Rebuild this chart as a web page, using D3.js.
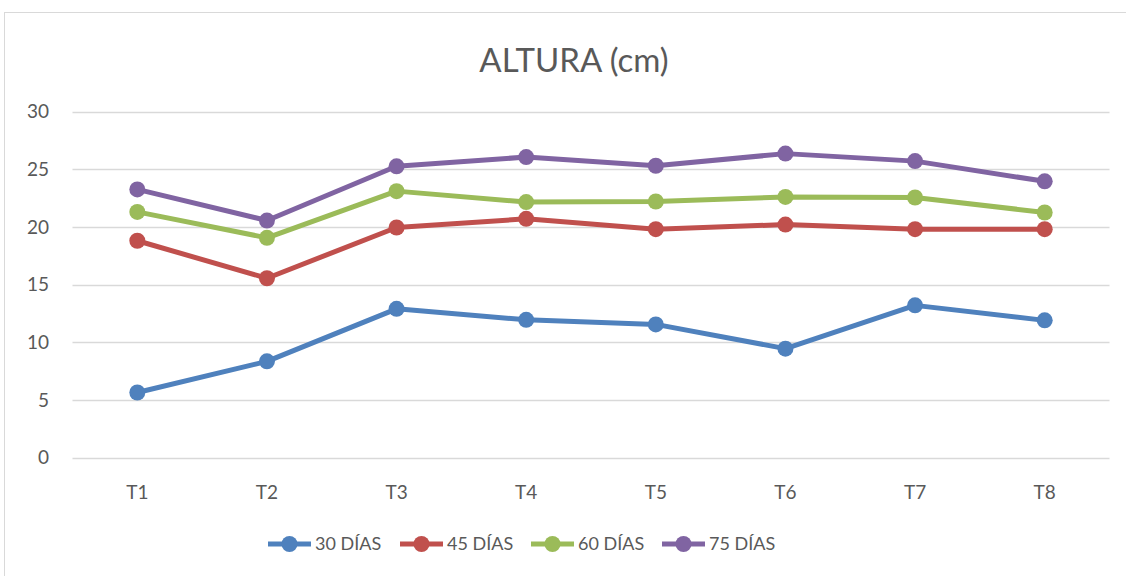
<!DOCTYPE html>
<html>
<head>
<meta charset="utf-8">
<script src="https://cdn.jsdelivr.net/npm/d3@7"></script>
<style>
  body { margin: 0; background: #fff; }
  text { font-family: Lato, "Open Sans", sans-serif; fill: #595959; }
</style>
</head>
<body>
<script>
const categories = ["T1", "T2", "T3", "T4", "T5", "T6", "T7", "T8"];
const seriesNames = ["30 DÍAS", "45 DÍAS", "60 DÍAS", "75 DÍAS"];
const dias30 = [5.65, 8.35, 12.9, 11.95, 11.55, 9.45, 13.2, 11.9];
const dias45 = [18.8, 15.55, 19.95, 20.7, 19.8, 20.2, 19.8, 19.8];
const dias60 = [21.3, 19.05, 23.1, 22.15, 22.2, 22.6, 22.55, 21.25];
const dias75 = [23.25, 20.55, 25.25, 26.05, 25.3, 26.35, 25.7, 23.95];
const yTicks = [0, 5, 10, 15, 20, 25, 30];
const colors = ["#4F81BD", "#C0504D", "#9BBB59", "#8064A2"];

function main(){
    const W = 1126, H = 576;
    const svg = d3.select("body").append("svg")
        .attr("width", W)
        .attr("height", H);

    // chart border (runs off the right and bottom)
    svg.append("rect")
        .attr("x", 4.5).attr("y", 12.5)
        .attr("width", W + 20).attr("height", H + 20)
        .attr("fill", "none")
        .attr("stroke", "#d9d9d9");

    svg.append("text")
        .attr("x", 574).attr("y", 72)
        .attr("text-anchor", "middle")
        .attr("font-size", "33px")
        .text("ALTURA (cm)");

    const left = 72.5, right = 1109.5, top = 111.5, bottom = 457.7;

    const x = d3.scaleBand().domain(categories).range([left, right]);
    const y = d3.scaleLinear().domain([0, 30]).range([bottom, top]);

    const g = svg.append("g");

    g.selectAll("line.grid")
        .data(yTicks)
        .enter().append("line")
        .attr("class", "grid")
        .attr("x1", left).attr("x2", right)
        .attr("y1", d => Math.round(y(d)) + 0.5)
        .attr("y2", d => Math.round(y(d)) + 0.5)
        .attr("stroke", "#d9d9d9")
        .attr("stroke-width", 1.5);

    g.selectAll("text.ytick")
        .data(yTicks)
        .enter().append("text")
        .attr("class", "ytick")
        .attr("x", 49)
        .attr("y", d => y(d))
        .attr("dy", "0.35em")
        .attr("text-anchor", "end")
        .attr("font-size", "19px")
        .text(d => d);

    g.selectAll("text.xtick")
        .data(categories)
        .enter().append("text")
        .attr("class", "xtick")
        .attr("x", d => x(d) + x.bandwidth() / 2)
        .attr("y", 499)
        .attr("text-anchor", "middle")
        .attr("font-size", "19px")
        .text(d => d);

    const series = [dias30, dias45, dias60, dias75];
    const line = d3.line()
        .x((d, i) => x(categories[i]) + x.bandwidth() / 2)
        .y(d => y(d));

    series.forEach((vals, si) => {
        g.append("path")
            .datum(vals)
            .attr("fill", "none")
            .attr("stroke", colors[si])
            .attr("stroke-width", 5)
            .attr("stroke-linejoin", "round")
            .attr("d", line);
        g.selectAll(null)
            .data(vals)
            .enter().append("circle")
            .attr("cx", (d, i) => x(categories[i]) + x.bandwidth() / 2)
            .attr("cy", d => y(d))
            .attr("r", 8)
            .attr("fill", colors[si]);
    });

    // legend
    const legX = [268, 400, 531, 662];
    const leg = svg.append("g");
    seriesNames.forEach((name, i) => {
        const lg = leg.append("g").attr("transform", "translate(" + legX[i] + ",544)");
        lg.append("line")
            .attr("x1", 0).attr("x2", 43)
            .attr("stroke", colors[i])
            .attr("stroke-width", 5);
        lg.append("circle")
            .attr("cx", 21.5).attr("r", 8)
            .attr("fill", colors[i]);
        lg.append("text")
            .attr("x", 47)
            .attr("dy", "0.35em")
            .attr("font-size", "18px")
            .text(name);
    });
}
main();
</script>
</body>
</html>
